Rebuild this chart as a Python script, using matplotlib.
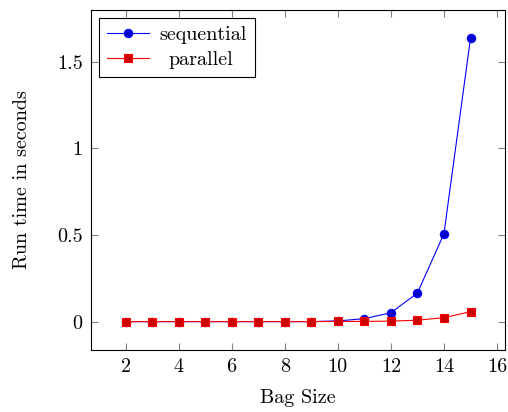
import matplotlib
matplotlib.use("Agg")
import matplotlib.pyplot as plt

bag_size = [2, 3, 4, 5, 6, 7, 8, 9, 10, 11, 12, 13, 14, 15]
sequential = [0.0, 0.0, 0.0, 0.0, 0.0, 0.0, 0.0, 0.0, 0.004, 0.017, 0.051, 0.165, 0.508, 1.637]
parallel = [0.0, 0.0, 0.0, 0.0, 0.0, 0.0, 0.0, 0.0, 0.001, 0.001, 0.003, 0.008, 0.023, 0.057]

plt.rcParams['font.family'] = 'serif'
plt.rcParams['font.serif'] = ['cmr10']
plt.rcParams['mathtext.fontset'] = 'cm'
plt.rcParams['axes.formatter.use_mathtext'] = True
plt.rcParams['font.size'] = 14.5

fig = plt.figure(figsize=(5.08, 4.12), dpi=100)
ax = fig.add_axes([91/508, 1-350/412, (505-91)/508, (350-10)/412])

ax.plot(bag_size, sequential, color='blue', lw=0.8, marker='o', markersize=6.0, markeredgewidth=0.8,
        markerfacecolor=(0, 0, 0.8), markeredgecolor='blue', label='sequential')
ax.plot(bag_size, parallel, color='red', lw=0.8, marker='s', markersize=6.0, markeredgewidth=0.8,
        markerfacecolor=(0.8, 0, 0), markeredgecolor='red', label='parallel')

ax.set_xlim(0.7, 16.3)
ax.set_ylim(-0.164, 1.80)
ax.set_xticks([2, 4, 6, 8, 10, 12, 14, 16])
ax.set_yticks([0, 0.5, 1, 1.5])
ax.set_yticklabels(['0', '0.5', '1', '1.5'])
ax.set_xticklabels(['2', '4', '6', '8', '10', '12', '14', '16'])
ax.tick_params(direction='in', length=5, width=0.8, color='#808080', top=True, right=True, pad=6)
for s in ax.spines.values():
    s.set_linewidth(0.8)
ax.set_xlabel('Bag Size', labelpad=9)
ax.set_ylabel('Run time in seconds', labelpad=19)

leg = ax.legend(loc='upper left', fancybox=False, edgecolor='black', framealpha=1,
                borderaxespad=0.4, handlelength=2.1, borderpad=0.4, labelspacing=0.35,
                handletextpad=0.5)
leg.get_frame().set_linewidth(0.8)
leg.get_texts()[1].set_x(8.5)

fig.savefig('out.png', dpi=100)
